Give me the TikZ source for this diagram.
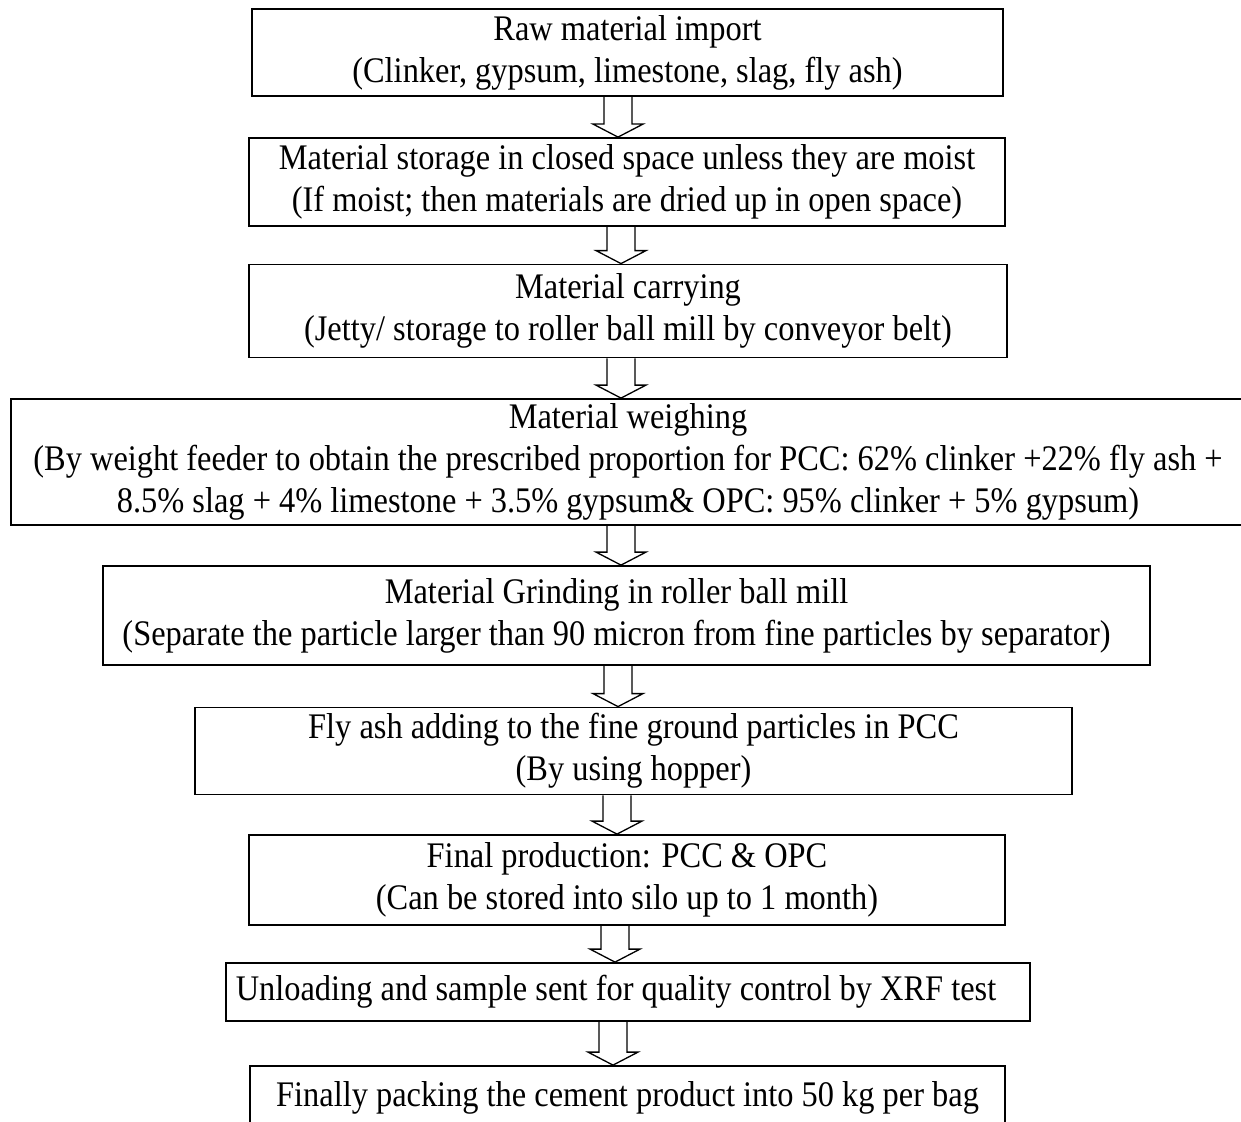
\documentclass[tikz,border=0pt]{standalone}
\usepackage{fontspec}
\setmainfont[FakeStretch=0.9]{Liberation Serif}
\usetikzlibrary{calc}
\tikzset{
  box/.style={draw, line width=1.8pt, align=center, inner sep=0pt,
    font=\fontsize{36}{42}\selectfont},
  barrow/.style={draw, line width=1.3pt, line join=miter},
}
\newcommand\flowarrow[3]{%
  \draw[barrow] let \p1=(#1.south), \p2=(#2.north) in
   (#3pt-14pt,\y1) -- (#3pt-14pt,\y2+13pt) -- (#3pt-25pt,\y2+13pt) -- (#3pt,\y2)
   -- (#3pt+25pt,\y2+13pt) -- (#3pt+14pt,\y2+13pt) -- (#3pt+14pt,\y1);}
\begin{document}
\begin{tikzpicture}[x=1pt,y=-1pt]
\useasboundingbox (0,0) rectangle (1241,1121);
\node[box, minimum width=751pt, minimum height=87pt] (b1) at (627.5,52.5)
  {Raw material import\\(Clinker, gypsum, limestone, slag, fly ash)};
\node[box, minimum width=756pt, minimum height=88pt] (b2) at (627,182)
  {Material storage in closed space unless they are moist\\(If moist; then materials are dried up in open space)};
\node[box, minimum width=758pt, minimum height=93pt] (b3) at (628,311)
  {Material carrying\\(Jetty/ storage to roller ball mill by conveyor belt)};
\node[box, minimum width=1234pt, minimum height=126pt] (b4) at (628,462)
  {Material weighing\\(By weight feeder to obtain the prescribed proportion for PCC: 62\% clinker +22\% fly ash +\\8.5\% slag + 4\% limestone + 3.5\% gypsum\& OPC: 95\% clinker + 5\% gypsum)};
\node[box, minimum width=1047pt, minimum height=99pt] (b5) at (626.5,615.5)
  {\hspace*{-20pt}Material Grinding in roller ball mill\\\hspace*{-20pt}(Separate the particle larger than 90 micron from fine particles by separator)};
\node[box, minimum width=877pt, minimum height=87pt] (b6) at (633.5,751)
  {Fly ash adding to the fine ground particles in PCC\\(By using hopper)};
\node[box, minimum width=756pt, minimum height=90pt] (b7) at (627,880)
  {Final production: PCC \& OPC\\(Can be stored into silo up to 1 month)};
\node[box, minimum width=804pt, minimum height=58pt] (b8) at (628,992)
  {\hspace*{-24pt}Unloading and sample sent for quality control by XRF test};
\node[box, minimum width=755pt, minimum height=64pt] (b9) at (627.5,1098)
  {Finally packing the cement product into 50 kg per bag};
\flowarrow{b1}{b2}{618}
\flowarrow{b2}{b3}{621}
\flowarrow{b3}{b4}{621}
\flowarrow{b4}{b5}{621}
\flowarrow{b5}{b6}{618}
\flowarrow{b6}{b7}{617}
\flowarrow{b7}{b8}{615}
\flowarrow{b8}{b9}{613}
\end{tikzpicture}
\end{document}
